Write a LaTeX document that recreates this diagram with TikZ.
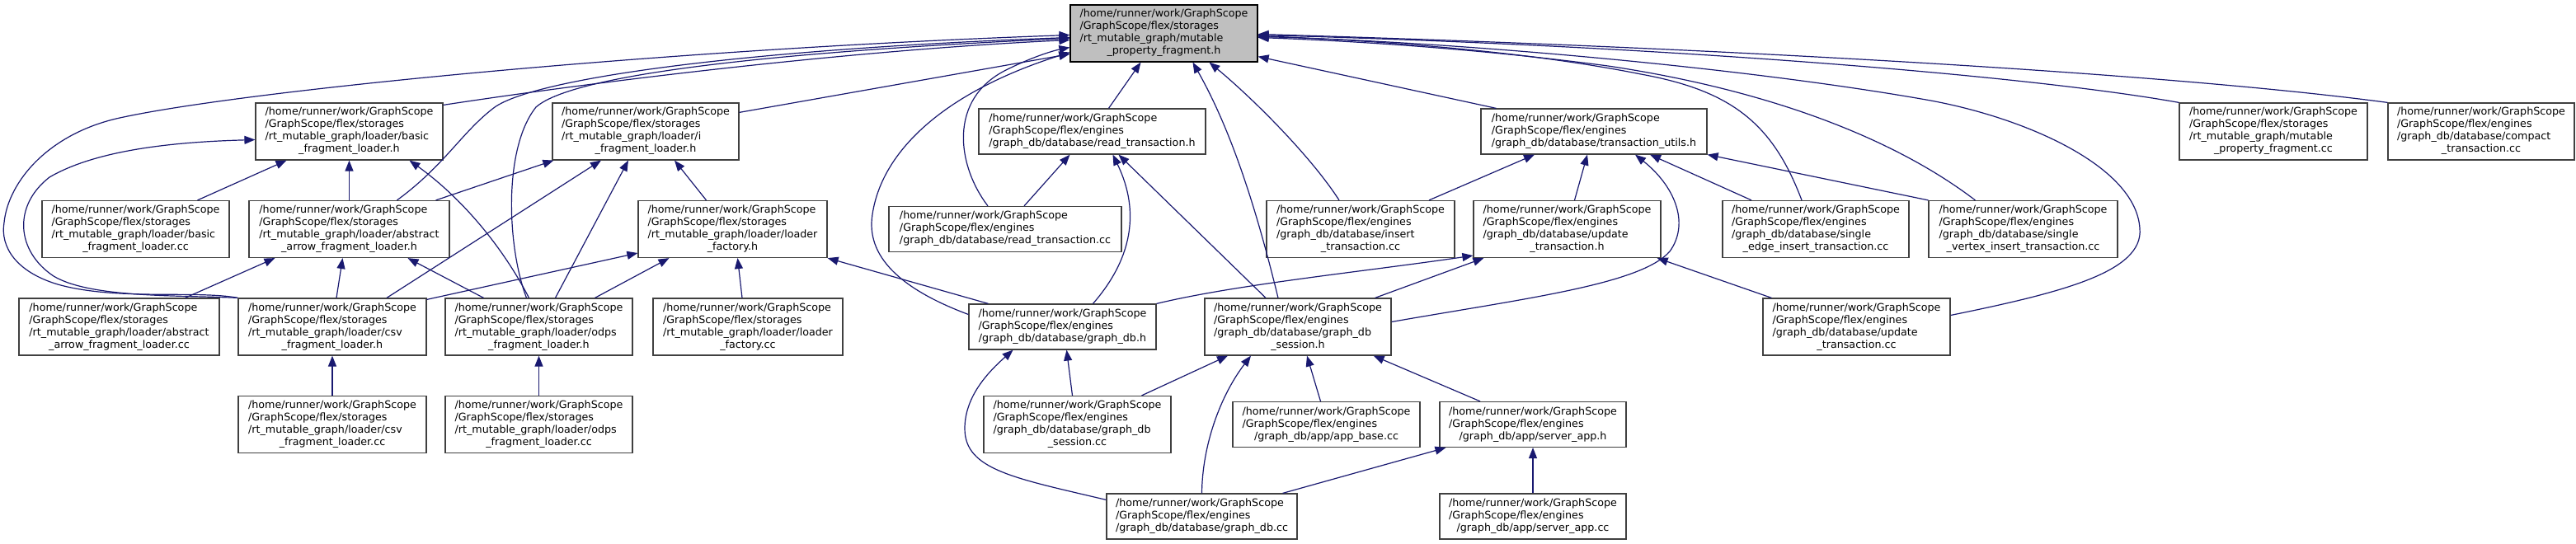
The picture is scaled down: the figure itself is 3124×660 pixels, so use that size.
\documentclass[tikz,border=0pt]{standalone}
\usepackage{fontspec}
\setmainfont{DejaVu Sans}
\usetikzlibrary{arrows.meta}
\definecolor{mblue}{RGB}{25,25,112}
\definecolor{nodeborder}{RGB}{64,64,64}
\definecolor{mainfill}{RGB}{191,191,191}
\newcommand\flines[4]{\begin{tabular}{@{}l@{}}#1\\#2\\#3\\\multicolumn{1}{@{}c@{}}{#4}\end{tabular}}
\newcommand\tlines[3]{\begin{tabular}{@{}l@{}}#1\\#2\\\multicolumn{1}{@{}c@{}}{#3}\end{tabular}}
\newcommand\hmline{/home/runner/work/GraphScope}
\newcommand\gsst{/GraphScope/flex/storages}
\newcommand\gseng{/GraphScope/flex/engines}
\begin{document}
\begin{tikzpicture}[x=1pt,y=-1pt,
  nd/.style={draw=nodeborder, fill=white, line width=1.2pt, inner sep=0pt,
    font=\fontsize{12.7}{15}\selectfont},
  hf/.style={minimum height=69pt},
  ht/.style={minimum height=55pt},
  edge/.style={draw=mblue, line width=1.2pt, -{Triangle[length=13pt,width=10pt]}}]
\fill[white] (0,0) rectangle (3124,660);
\useasboundingbox (0,0) rectangle (3124,660);
% rank 0
\node[nd,hf,fill=mainfill,draw=black,minimum width=227pt] (main) at (1411.5,40.5)
  {\flines{\hmline}{\gsst}{/rt\_mutable\_graph/mutable}{\_property\_fragment.h}};
% rank 1
\node[nd,hf,minimum width=227pt] (basich) at (423.5,159.5)
  {\flines{\hmline}{\gsst}{/rt\_mutable\_graph/loader/basic}{\_fragment\_loader.h}};
\node[nd,hf,minimum width=226pt] (ih) at (783,159.5)
  {\flines{\hmline}{\gsst}{/rt\_mutable\_graph/loader/i}{\_fragment\_loader.h}};
\node[nd,ht,minimum width=275pt] (readh) at (1324.5,159.5)
  {\tlines{\hmline}{\gseng}{/graph\_db/database/read\_transaction.h}};
\node[nd,ht,minimum width=274pt] (tutils) at (1933,159.5)
  {\tlines{\hmline}{\gseng}{/graph\_db/database/transaction\_utils.h}};
\node[nd,hf,minimum width=228pt] (mpfcc) at (2757,159.5)
  {\flines{\hmline}{\gsst}{/rt\_mutable\_graph/mutable}{\_property\_fragment.cc}};
\node[nd,hf,minimum width=226pt] (compact) at (3009,159.5)
  {\flines{\hmline}{\gseng}{/graph\_db/database/compact}{\_transaction.cc}};
% rank 2
\node[nd,hf,minimum width=227pt] (basiccc) at (164.5,278)
  {\flines{\hmline}{\gsst}{/rt\_mutable\_graph/loader/basic}{\_fragment\_loader.cc}};
\node[nd,hf,minimum width=243pt] (abstrh) at (423.5,278)
  {\flines{\hmline}{\gsst}{/rt\_mutable\_graph/loader/abstract}{\_arrow\_fragment\_loader.h}};
\node[nd,hf,minimum width=229pt] (lfh) at (888.5,278)
  {\flines{\hmline}{\gsst}{/rt\_mutable\_graph/loader/loader}{\_factory.h}};
\node[nd,ht,minimum width=282pt] (readcc) at (1219,278)
  {\tlines{\hmline}{\gseng}{/graph\_db/database/read\_transaction.cc}};
\node[nd,hf,minimum width=228pt] (insertcc) at (1650,278)
  {\flines{\hmline}{\gseng}{/graph\_db/database/insert}{\_transaction.cc}};
\node[nd,hf,minimum width=227pt] (updh) at (1900.5,278)
  {\flines{\hmline}{\gseng}{/graph\_db/database/update}{\_transaction.h}};
\node[nd,hf,minimum width=226pt] (sedge) at (2202,278)
  {\flines{\hmline}{\gseng}{/graph\_db/database/single}{\_edge\_insert\_transaction.cc}};
\node[nd,hf,minimum width=229pt] (svert) at (2453.5,278)
  {\flines{\hmline}{\gseng}{/graph\_db/database/single}{\_vertex\_insert\_transaction.cc}};
% rank 3
\node[nd,hf,minimum width=243pt] (abstrcc) at (144.5,396.5)
  {\flines{\hmline}{\gsst}{/rt\_mutable\_graph/loader/abstract}{\_arrow\_fragment\_loader.cc}};
\node[nd,hf,minimum width=228pt] (csvh) at (403,396.5)
  {\flines{\hmline}{\gsst}{/rt\_mutable\_graph/loader/csv}{\_fragment\_loader.h}};
\node[nd,hf,minimum width=227pt] (odpsh) at (653.5,396.5)
  {\flines{\hmline}{\gsst}{/rt\_mutable\_graph/loader/odps}{\_fragment\_loader.h}};
\node[nd,hf,minimum width=230pt] (lfcc) at (907,396.5)
  {\flines{\hmline}{\gsst}{/rt\_mutable\_graph/loader/loader}{\_factory.cc}};
\node[nd,ht,minimum width=227pt] (gdbh) at (1288.5,396.5)
  {\tlines{\hmline}{\gseng}{/graph\_db/database/graph\_db.h}};
\node[nd,hf,minimum width=226pt] (sessh) at (1574,396.5)
  {\flines{\hmline}{\gseng}{/graph\_db/database/graph\_db}{\_session.h}};
\node[nd,hf,minimum width=227pt] (updcc) at (2251.5,396.5)
  {\flines{\hmline}{\gseng}{/graph\_db/database/update}{\_transaction.cc}};
% rank 4
\node[nd,hf,minimum width=228pt] (csvcc) at (403,515)
  {\flines{\hmline}{\gsst}{/rt\_mutable\_graph/loader/csv}{\_fragment\_loader.cc}};
\node[nd,hf,minimum width=227pt] (odpscc) at (653.5,515)
  {\flines{\hmline}{\gsst}{/rt\_mutable\_graph/loader/odps}{\_fragment\_loader.cc}};
\node[nd,hf,minimum width=227pt] (sesscc) at (1306.5,515)
  {\flines{\hmline}{\gseng}{/graph\_db/database/graph\_db}{\_session.cc}};
\node[nd,ht,minimum width=227pt] (appbase) at (1608.5,515)
  {\tlines{\hmline}{\gseng}{/graph\_db/app/app\_base.cc}};
\node[nd,ht,minimum width=226pt] (serverh) at (1859,515)
  {\tlines{\hmline}{\gseng}{/graph\_db/app/server\_app.h}};
% rank 5
\node[nd,ht,minimum width=231pt] (gdbcc) at (1457.5,626.5)
  {\tlines{\hmline}{\gseng}{/graph\_db/database/graph\_db.cc}};
\node[nd,ht,minimum width=226pt] (servercc) at (1859,626.5)
  {\tlines{\hmline}{\gseng}{/graph\_db/app/server\_app.cc}};
% edges
\draw[edge] ([xshift=75pt]basiccc.north) -- ([xshift=-76pt]basich.south);
\draw[edge] (abstrh.north) -- (basich.south);
\draw[edge] ([xshift=-17pt]abstrh.north east) -- ([xshift=2pt]ih.south west);
\draw[edge] ([xshift=80pt]abstrcc.north) -- ([xshift=-90pt]abstrh.south);
\draw[edge] ([xshift=5pt]csvh.north) -- ([xshift=-8pt]abstrh.south);
\draw[edge] ([xshift=-67pt]odpsh.north) -- ([xshift=71pt]abstrh.south);
\draw[edge] ([xshift=66pt]csvh.north) -- ([xshift=-54pt]ih.south);
\draw[edge] ([xshift=20pt]odpsh.north) -- ([xshift=-21pt]ih.south);
\draw[edge] ([yshift=-2pt]csvh.north east) -- ([yshift=-29pt]lfh.west);
\draw[edge] ([xshift=68pt]odpsh.north) -- ([xshift=-77pt]lfh.south);
\draw[edge] ([xshift=-32pt]lfh.north) -- ([xshift=35pt]ih.south);
\draw[edge] ([xshift=-7pt]lfcc.north) -- ([xshift=6pt]lfh.south);
\draw[edge] ([xshift=-90pt]gdbh.north) -- (lfh.south east);
\draw[edge] ([xshift=23pt]readcc.north) -- ([xshift=-27pt]readh.south);
\draw[edge] ([xshift=20pt]readh.north) -- ([xshift=-28pt]main.south);
\draw[edge] ([xshift=37pt]gdbh.north) .. controls (1385,300) and (1375,240) .. ([xshift=25pt]readh.south);
\draw[edge] ([xshift=-39pt]sessh.north) -- ([xshift=32pt]readh.south);
\draw[edge] ([xshift=-24pt]sessh.north) .. controls (1530,280) and (1500,170) .. ([xshift=35pt]main.south);
\draw[edge] ([xshift=-26pt]insertcc.north) .. controls (1590,190) and (1520,120) .. ([xshift=55pt]main.south);
\draw[edge] ([xshift=83pt]insertcc.north) -- ([xshift=-72pt]tutils.south);
\draw[edge] ([xshift=9pt]updh.north) -- ([xshift=-8pt]tutils.south);
\draw[edge] ([xshift=-78pt]sedge.north) -- ([xshift=68pt]tutils.south);
\draw[edge] (svert.north west) -- (tutils.south east);
\draw[edge] ([xshift=19pt]tutils.north west) -- ([yshift=7pt]main.south east);
\draw[edge] ([xshift=11pt]updcc.north west) -- ([xshift=-5pt]updh.south east);
\draw[edge] (gdbh.north east) .. controls (1500,345) and (1650,330) .. ([yshift=3pt]updh.south west);
\draw[edge] ([xshift=-20pt]sessh.north east) -- ([xshift=13pt]updh.south west);
\draw[edge] ([yshift=6pt]sessh.east) .. controls (1850,362) and (1990,345) .. (2025,305)
   .. controls (2050,270) and (2030,225) .. ([xshift=50pt]tutils.south);
\draw[edge] ([yshift=14pt]updcc.east) .. controls (2500,355) and (2600,330) .. (2595,277)
   .. controls (2590,200) and (2450,140) .. (2330,120)
   .. controls (2100,80) and (1750,50) .. ([yshift=-4pt]main.east);
\draw[edge] ([xshift=57pt]svert.north west) .. controls (2300,170) and (2150,110) .. (1950,80)
   .. controls (1800,60) and (1650,50) .. ([yshift=-5pt]main.east);
\draw[edge] ([xshift=-17pt]sedge.north) .. controls (2150,150) and (2100,110) .. (1990,90)
   .. controls (1850,62) and (1680,50) .. ([yshift=-3pt]main.east);
\draw[edge] (mpfcc.north west) .. controls (2450,90) and (2000,55) .. ([yshift=-2pt]main.east);
\draw[edge] (compact.north west) .. controls (2600,85) and (2000,55) .. ([yshift=-1pt]main.east);
\draw[edge] ([yshift=-3pt]basich.north east) .. controls (750,95) and (1050,60) .. ([yshift=-8pt]main.west);
\draw[edge] ([yshift=-12pt]ih.north east) -- ([yshift=-25pt]main.west);
\draw[edge] ([xshift=-21pt]readcc.north) .. controls (1160,200) and (1150,120) .. (1220,85)
   .. controls (1250,70) and (1275,62) .. ([yshift=-17pt]main.west);
\draw[edge] ([yshift=15pt]gdbh.west) .. controls (1090,350) and (1050,310) .. (1058,260)
   .. controls (1070,180) and (1150,110) .. ([yshift=-23pt]main.west);
\draw[edge] ([xshift=58pt]abstrh.north) .. controls (540,200) and (560,160) .. (600,130)
   .. controls (650,95) and (900,60) .. ([yshift=-5pt]main.west);
\draw[edge] ([xshift=-15pt]odpsh.north) .. controls (615,300) and (610,180) .. (650,130)
   .. controls (700,85) and (1000,60) .. ([yshift=-6pt]main.west);
\draw[edge] ([xshift=-12pt]odpsh.north) .. controls (610,300) and (560,240) .. ([xshift=73pt]basich.south);
\draw[edge] (csvh.north west) .. controls (240,352) and (140,365) .. (70,345)
   .. controls (20,330) and (0,300) .. (5,270)
   .. controls (10,220) and (60,160) .. (150,142)
   .. controls (300,110) and (800,60) .. ([yshift=-2pt]main.west);
\draw[edge] (csvh.north west) .. controls (220,358) and (110,362) .. (65,335)
   .. controls (20,305) and (15,250) .. (60,215)
   .. controls (120,180) and (220,172) .. ([yshift=-10pt]basich.west);
\draw[edge] (csvcc.north) -- (csvh.south);
\draw[edge] (odpscc.north) -- (odpsh.south);
\draw[edge] ([xshift=-6pt]sesscc.north) -- ([xshift=5pt]gdbh.south);
\draw[edge] ([xshift=78pt]sesscc.north) -- ([xshift=-85pt]sessh.south);
\draw[edge] ([yshift=-8pt]gdbcc.north west) .. controls (1230,580) and (1170,570) .. (1170,520)
   .. controls (1170,480) and (1200,450) .. ([xshift=-60pt]gdbh.south);
\draw[edge] (gdbcc.north) .. controls (1458,540) and (1480,480) .. ([xshift=-57pt]sessh.south);
\draw[edge] ([xshift=-7pt]appbase.north) -- ([xshift=11pt]sessh.south);
\draw[edge] ([xshift=-64pt]serverh.north) -- ([xshift=-22pt]sessh.south east);
\draw[edge] ([xshift=-18pt]gdbcc.north east) -- ([xshift=8pt]serverh.south west);
\draw[edge] (servercc.north) -- (serverh.south);
\end{tikzpicture}
\end{document}
